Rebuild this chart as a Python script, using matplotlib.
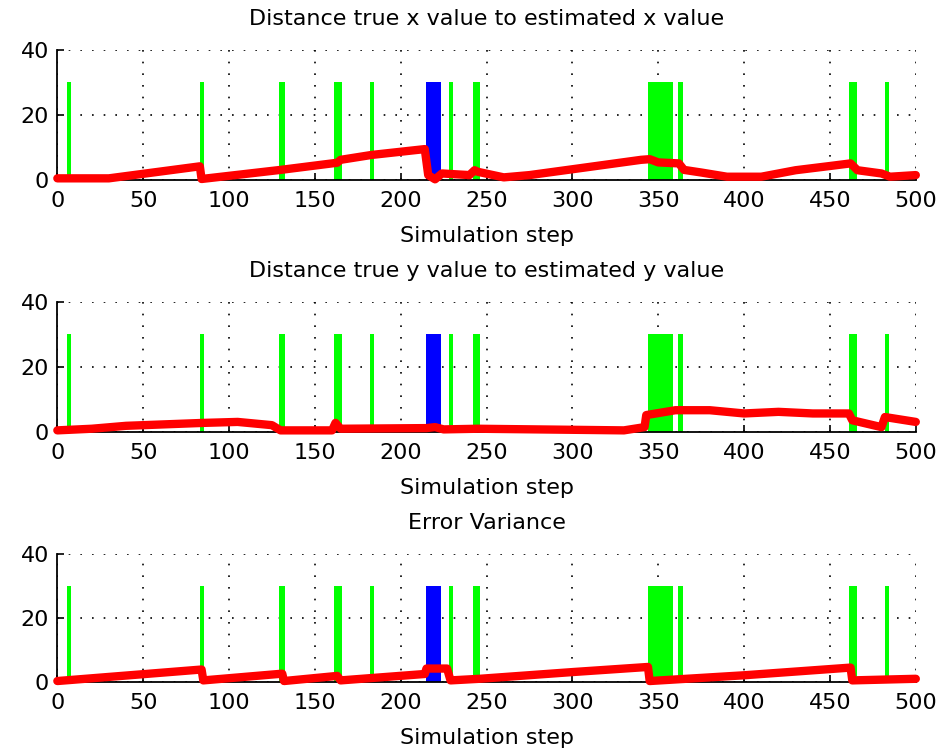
import numpy as np
import matplotlib
matplotlib.use('Agg')
import matplotlib.pyplot as plt

plt.rcParams['font.family'] = ['DejaVu Sans']

# event bars (start step, end step), height 30
green_start = [5.6, 83.3, 129.1, 161.3, 182.1, 228.1, 241.9, 344.2, 361.3, 461.3, 481.9]
green_end = [7.9, 85.4, 132.6, 166.0, 184.4, 230.3, 246.4, 358.8, 364.6, 465.9, 484.2]
blue_start = [214.6]
blue_end = [223.5]
bar_height = 30

# distance x error
err_x_steps = [0, 30, 83, 84, 130, 163, 165, 183, 214, 216, 220, 224, 240, 243, 245,
               260, 275, 300, 340, 345, 350, 362, 365, 375, 390, 410, 430, 450, 462,
               466, 480, 485, 500]
err_x_vals = [0.5, 0.5, 4.2, 0.3, 3.1, 5.3, 6.2, 7.7, 9.5, 1.5, 0.2, 2.0, 1.5, 3.0, 2.5,
              0.8, 1.5, 3.3, 6.2, 6.4, 5.4, 5.1, 3.1, 2.3, 1.0, 1.0, 3.0, 4.3, 5.1,
              3.0, 2.0, 1.0, 1.5]

# distance y error
err_y_steps = [0, 20, 40, 60, 85, 105, 125, 130, 160, 162, 165, 215, 220, 225, 245,
               330, 342, 343, 360, 380, 400, 420, 440, 461, 463, 480, 482, 500]
err_y_vals = [0.5, 1.0, 1.9, 2.3, 2.8, 3.1, 2.1, 0.5, 0.5, 2.8, 1.0, 1.2, 1.5, 0.8, 1.0,
              0.5, 1.5, 5.2, 6.7, 6.7, 5.7, 6.2, 5.7, 5.7, 3.6, 1.5, 4.6, 3.1]

# error variance
var_steps = [0, 84, 85, 131, 132, 163, 165, 214, 215, 227, 229, 246, 300, 344, 345,
             400, 462, 463, 500]
var_vals = [0.3, 3.9, 0.5, 2.6, 0.3, 1.9, 0.5, 2.5, 4.2, 4.2, 0.5, 1.0, 3.1, 4.7, 0.3,
            2.1, 4.5, 0.5, 1.0]

titles = ['Distance true x value to estimated x value',
          'Distance true y value to estimated y value',
          'Error Variance']
series = [(err_x_steps, err_x_vals), (err_y_steps, err_y_vals), (var_steps, var_vals)]

fig = plt.figure(figsize=(9.51, 7.53), dpi=100)
tops = [0.9336, 0.599, 0.2643]
bottoms = [0.761, 0.4263, 0.0943]
left, right = 0.0603, 0.963

for i in range(3):
    ax = fig.add_axes([left, bottoms[i], right - left, tops[i] - bottoms[i]])
    gs = np.array(green_start)
    ge = np.array(green_end)
    ax.bar(gs, bar_height, width=ge - gs, align='edge', color=(0, 1, 0), linewidth=0, zorder=2)
    bs = np.array(blue_start)
    be = np.array(blue_end)
    ax.bar(bs, bar_height, width=be - bs, align='edge', color=(0, 0, 1), linewidth=0, zorder=2)
    xs, ys = series[i]
    ax.plot(xs, ys, color='red', linewidth=6, solid_capstyle='round',
            solid_joinstyle='round', zorder=3, clip_on=False)
    ax.set_xlim(0, 500)
    ax.set_ylim(0, 40)
    ax.set_xticks(np.arange(0, 501, 50))
    ax.set_yticks([0, 20, 40])
    ax.grid(True, color='black', linestyle=(0, (1, 6)), linewidth=1.2)
    ax.set_axisbelow(True)
    for s in ['top', 'right']:
        ax.spines[s].set_visible(False)
    ax.spines['left'].set_linewidth(1.3)
    ax.spines['bottom'].set_linewidth(1.3)
    ax.tick_params(direction='in', length=5, width=1.2, labelsize=16, pad=6, colors='black')
    ax.tick_params(axis='x', pad=8)
    ax.set_title(titles[i], fontsize=16, pad=18)
    ax.set_xlabel('Simulation step', fontsize=16, labelpad=11)

fig.savefig('out.png', dpi=100)
